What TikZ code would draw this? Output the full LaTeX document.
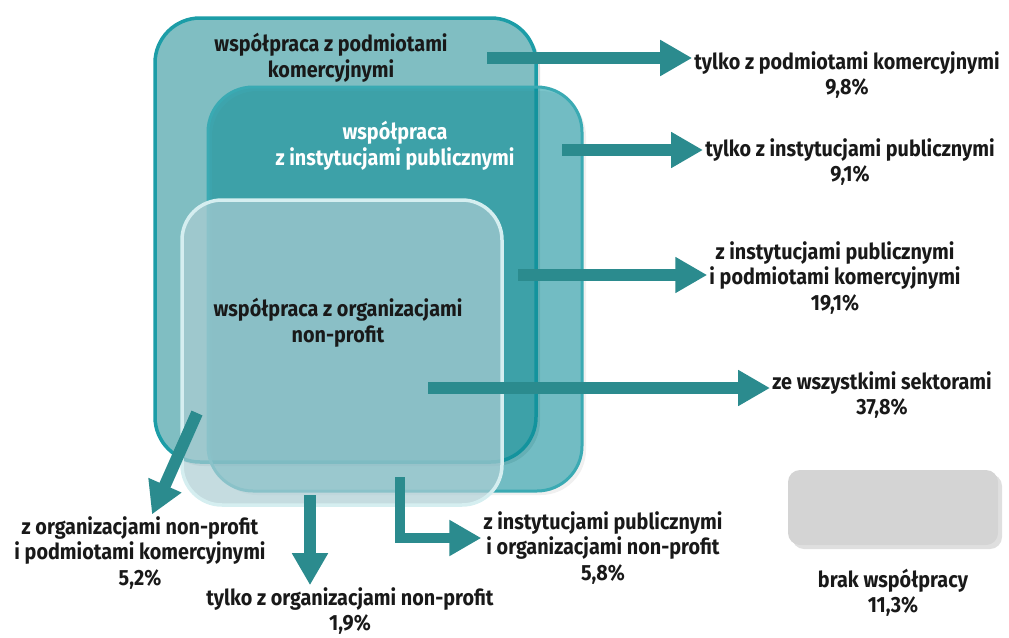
\documentclass[tikz,border=0pt]{standalone}
\usepackage{fontspec}
\setmainfont{Fira Sans}[FakeStretch=0.9]
\usetikzlibrary{arrows.meta,shadows}

\definecolor{komfill}{HTML}{80BEC2}
\definecolor{komline}{HTML}{1C9DA7}
\definecolor{pubfill}{HTML}{008E9A}
\definecolor{publine}{HTML}{3AAAB3}
\definecolor{orgfill}{HTML}{ACCDD3}
\definecolor{orgline}{HTML}{D5EEF0}
\definecolor{flowteal}{HTML}{2B8B8E}
\definecolor{nonegray}{HTML}{D4D4D4}

\tikzset{
  sector/.style={rounded corners=45pt, inner sep=0pt},
  lbl/.style={align=center, font=\bfseries\fontsize{22}{25.5}\selectfont, text=black!90, inner sep=2pt},
  flow/.style={draw=flowteal, line width=12pt, -{Triangle[length=32pt,width=34pt]}},
  softshadow/.style={drop shadow={opacity=#1, shadow xshift=4pt, shadow yshift=-4pt}},
  softshadow/.default=0.25
}

\begin{document}
\begin{tikzpicture}[x=1pt,y=-1pt]
\useasboundingbox (0,0) rectangle (1009,637);

\node (kom) at (345.5,240) [sector, softshadow, draw=komline, line width=3.5pt, fill=komfill, minimum width=381pt, minimum height=444pt] {};
\node (pub) at (395,289)   [sector, softshadow=0.12, draw=publine, line width=3pt, fill=pubfill, fill opacity=0.52, minimum width=374pt, minimum height=404pt] {};
\node (org) at (342,352.5) [sector, rounded corners=40pt, draw=orgline, line width=3.5pt, fill=orgfill, fill opacity=0.7, minimum width=320pt, minimum height=305pt] {};
\node (none) at (893,507.5) [rounded corners=12pt, softshadow, fill=nonegray, minimum width=210pt, minimum height=75pt] {};

\node (komtxt) at (331,58)  [lbl] {współpraca z podmiotami\\komercyjnymi};
\node (pubtxt) at (395,146) [lbl, text=white] {współpraca\\z instytucjami publicznymi};
\node (orgtxt) at (338,323) [lbl] {współpraca z organizacjami\\non-profit};

\node (onlykom) at (847,75)  [lbl] {tylko z podmiotami komercyjnymi\\9,8\%};
\node (onlypub) at (850,162) [lbl] {tylko z instytucjami publicznymi\\9,1\%};
\node (pubkom)  at (835,278) [lbl] {z instytucjami publicznymi\\i podmiotami komercyjnymi\\19,1\%};
\node (all)     at (882,395) [lbl] {ze wszystkimi sektorami\\37,8\%};
\node (orgkom)  at (140,553) [lbl] {z organizacjami non-profit\\i podmiotami komercyjnymi\\5,2\%};
\node (onlyorg) at (350,611) [lbl] {tylko z organizacjami non-profit\\1,9\%};
\node (puborg)  at (603,548) [lbl] {z instytucjami publicznymi\\i organizacjami non-profit\\5,8\%};
\node (nonetxt) at (893,593) [lbl] {brak współpracy\\11,3\%};

\coordinate (s1) at (487,58);
\coordinate (s2) at (562,150);
\coordinate (s3) at (518,275);
\coordinate (s4) at (428,388);
\coordinate (s5) at (197,413);
\coordinate (s6) at (310,495);
\coordinate (s7) at (400,477);

\draw [flow] (s1) -- (s1 -| onlykom.west);
\draw [flow] (s2) -- (s2 -| onlypub.west);
\draw [flow] (s3) -- (s3 -| pubkom.west);
\draw [flow] (s4) -- (s4 -| all.west);
\draw [flow] (s5) -- ([xshift=12pt]orgkom.north);
\draw [flow] (s6) -- (s6 |- onlyorg.north);
\draw [flow, line width=10pt] (s7) |- ([yshift=10pt]puborg.west);

\end{tikzpicture}
\end{document}
